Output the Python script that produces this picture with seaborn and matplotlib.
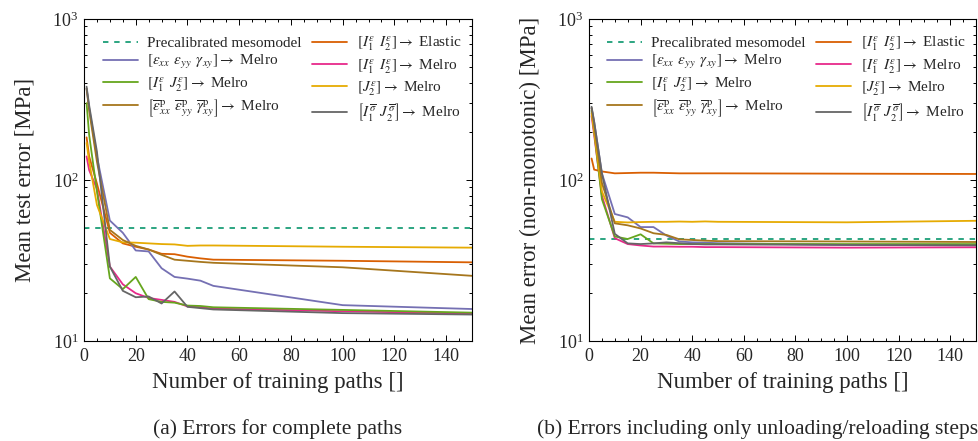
import numpy as np
import pandas as pd
import matplotlib
matplotlib.use("Agg")
import matplotlib.pyplot as plt
import seaborn as sns
from matplotlib.lines import Line2D
from matplotlib.ticker import MultipleLocator, LogLocator

# ---------------- data ----------------
paths = [1, 2, 5, 10, 15, 20, 25, 30, 35, 40, 45, 50, 100, 150]

pre_left = 50.0
left_elastic = [184, 140, 95, 47, 40.4, 38.5, 37, 34.8, 34.6, 33.4, 32.6, 32, 31.5, 30.8]
left_eps     = [370, 280, 140, 56, 47, 36.5, 36, 28.3, 25, 24.4, 23.7, 22, 16.7, 15.8]
left_i1i2    = [140, 115, 88, 29, 22.5, 19.8, 18.5, 18, 17.5, 16.4, 16.2, 15.9, 15.3, 14.8]
left_i1j2    = [300, 190, 85, 24.5, 21, 25, 18.2, 17.5, 17.3, 16.6, 16.5, 16.2, 15.6, 15.0]
left_j2      = [170, 130, 70, 43, 41, 40.8, 40.4, 40, 39.8, 39, 39.2, 39.2, 38.5, 38]
left_epsp    = [370, 270, 130, 49, 42.4, 39, 37, 34.3, 32, 31.5, 31, 30.6, 28.7, 25.4]
left_sigma   = [380, 290, 150, 29, 20.5, 18.7, 18.9, 17.1, 20.3, 16.3, 16.0, 15.7, 14.9, 14.6]

pre_right = 43.0
right_elastic = [136, 116, 113, 110, 110.5, 111, 111, 110.5, 110, 110, 110, 110, 109.5, 109]
right_eps     = [280, 230, 110, 61.5, 58.6, 51, 51, 45.2, 41.5, 41, 40.8, 40.5, 39.5, 39.3]
right_i1i2    = [250, 190, 80, 43.5, 40, 39.2, 38.6, 38.6, 38.5, 38.5, 38.3, 38.3, 38, 38.2]
right_i1j2    = [270, 200, 76, 44.6, 43, 46, 40.4, 40.2, 40, 40, 40, 40, 40, 40]
right_j2      = [260, 200, 85, 55, 54.5, 54.8, 55, 55, 55.2, 55, 55.3, 55, 54.6, 55.8]
right_epsp    = [280, 220, 96, 53.8, 52.3, 50, 46.7, 45.6, 42.8, 42.4, 42, 41.7, 41.5, 41.2]
right_sigma   = [285, 230, 110, 46.3, 40.4, 40, 40.4, 41, 40.5, 40, 39.8, 39.8, 39.5, 39.3]

labels = {
    "pre": "Precalibrated mesomodel",
    "elastic": r"$[I_1^{\varepsilon}\;\, I_2^{\varepsilon}] \rightarrow$ Elastic",
    "eps": r"$[\varepsilon_{xx}\;\, \varepsilon_{yy}\;\, \gamma_{xy}] \rightarrow$ Melro",
    "i1i2": r"$[I_1^{\varepsilon}\;\, I_2^{\varepsilon}] \rightarrow$ Melro",
    "i1j2": r"$[I_1^{\varepsilon}\;\, J_2^{\varepsilon}] \rightarrow$ Melro",
    "j2": r"$[J_2^{\varepsilon}] \rightarrow$ Melro",
    "epsp": r"$\left[\overline{\varepsilon}^{\mathrm{p}}_{xx}\;\, \overline{\varepsilon}^{\mathrm{p}}_{yy}\;\, \overline{\gamma}^{\mathrm{p}}_{xy}\right] \rightarrow$ Melro",
    "sigma": r"$\left[I_1^{\overline{\sigma}}\;\, J_2^{\overline{\sigma}}\right] \rightarrow$ Melro",
}
palette = {
    "pre": "#1b9e77", "elastic": "#d95f02", "eps": "#7570b3", "i1i2": "#e7298a",
    "i1j2": "#66a61e", "j2": "#e6ab02", "epsp": "#a6761d", "sigma": "#666666",
}
series_order = ["elastic", "eps", "i1i2", "i1j2", "j2", "epsp", "sigma"]

left_data = dict(elastic=left_elastic, eps=left_eps, i1i2=left_i1i2, i1j2=left_i1j2,
                 j2=left_j2, epsp=left_epsp, sigma=left_sigma)
right_data = dict(elastic=right_elastic, eps=right_eps, i1i2=right_i1i2, i1j2=right_i1j2,
                  j2=right_j2, epsp=right_epsp, sigma=right_sigma)

def to_long(d):
    rows = []
    for k in series_order:
        for xv, yv in zip(paths, d[k]):
            rows.append((xv, yv, k))
    return pd.DataFrame(rows, columns=["paths", "error", "model"])

# ---------------- style ----------------
sns.set_theme(style="ticks")
plt.rcParams["font.family"] = ["Liberation Serif", "DejaVu Serif"]
plt.rcParams["mathtext.fontset"] = "stix"
plt.rcParams["axes.linewidth"] = 0.8

fig = plt.figure(figsize=(9.79, 4.41), dpi=100)
W, H = 979, 441
ax_l = fig.add_axes([84 / W, 1 - 341 / H, (472 - 84) / W, (341 - 19) / H])
ax_r = fig.add_axes([589 / W, 1 - 341 / H, (976 - 589) / W, (341 - 19) / H])

LW = 1.3
dash = (3.0, 3.2)

for ax, d, pre, ylab, cap, capx in [
    (ax_l, left_data, pre_left, "Mean test error [MPa]", "(a) Errors for complete paths", 278),
    (ax_r, right_data, pre_right, "Mean error (non-monotonic) [MPa]",
     "(b) Errors including only unloading/reloading steps", 758),
]:
    ax.axhline(pre, color=palette["pre"], lw=LW, dashes=dash, zorder=1)
    sns.lineplot(data=to_long(d), x="paths", y="error", hue="model", hue_order=series_order,
                 palette=palette, estimator=None, legend=False, lw=LW, ax=ax, zorder=2)
    ax.set_yscale("log")
    ax.set_xlim(0, 150)
    ax.set_ylim(10, 1000)
    ax.xaxis.set_major_locator(MultipleLocator(20))
    ax.xaxis.set_minor_locator(MultipleLocator(5))
    ax.yaxis.set_major_locator(LogLocator(base=10))
    ax.yaxis.set_minor_locator(LogLocator(base=10, subs=np.arange(2, 10)))
    ax.tick_params(which="both", direction="in", top=True, right=True, color="black",
                   labelsize=13, width=0.7)
    ax.tick_params(which="major", length=4.5)
    ax.tick_params(which="minor", length=2.5)
    ax.tick_params(axis="x", pad=5)
    ax.tick_params(axis="y", pad=4)
    for s in ax.spines.values():
        s.set_visible(True)
        s.set_color("black")
    ax.set_xlabel("Number of training paths []", fontsize=16.5, labelpad=5)
    ax.set_ylabel(ylab, fontsize=16.5, labelpad=12)

    handles = [Line2D([], [], color=palette["pre"], lw=LW, dashes=dash, label=labels["pre"])]
    legend_order = ["eps", "i1j2", "epsp", "elastic", "i1i2", "j2", "sigma"]
    for k in legend_order:
        handles.append(Line2D([], [], color=palette[k], lw=LW, label=labels[k]))
    ax.legend(handles=handles, ncol=2, loc="upper right", bbox_to_anchor=(1.0, 0.985),
              frameon=False, fontsize=11, handlelength=2.3, handletextpad=0.6,
              columnspacing=0.7, labelspacing=0.22, borderpad=0.2)

    fig.text(capx / W, 1 - 429 / H, cap, ha="center", va="center", fontsize=15.5)

fig.savefig("out.png", dpi=100)
